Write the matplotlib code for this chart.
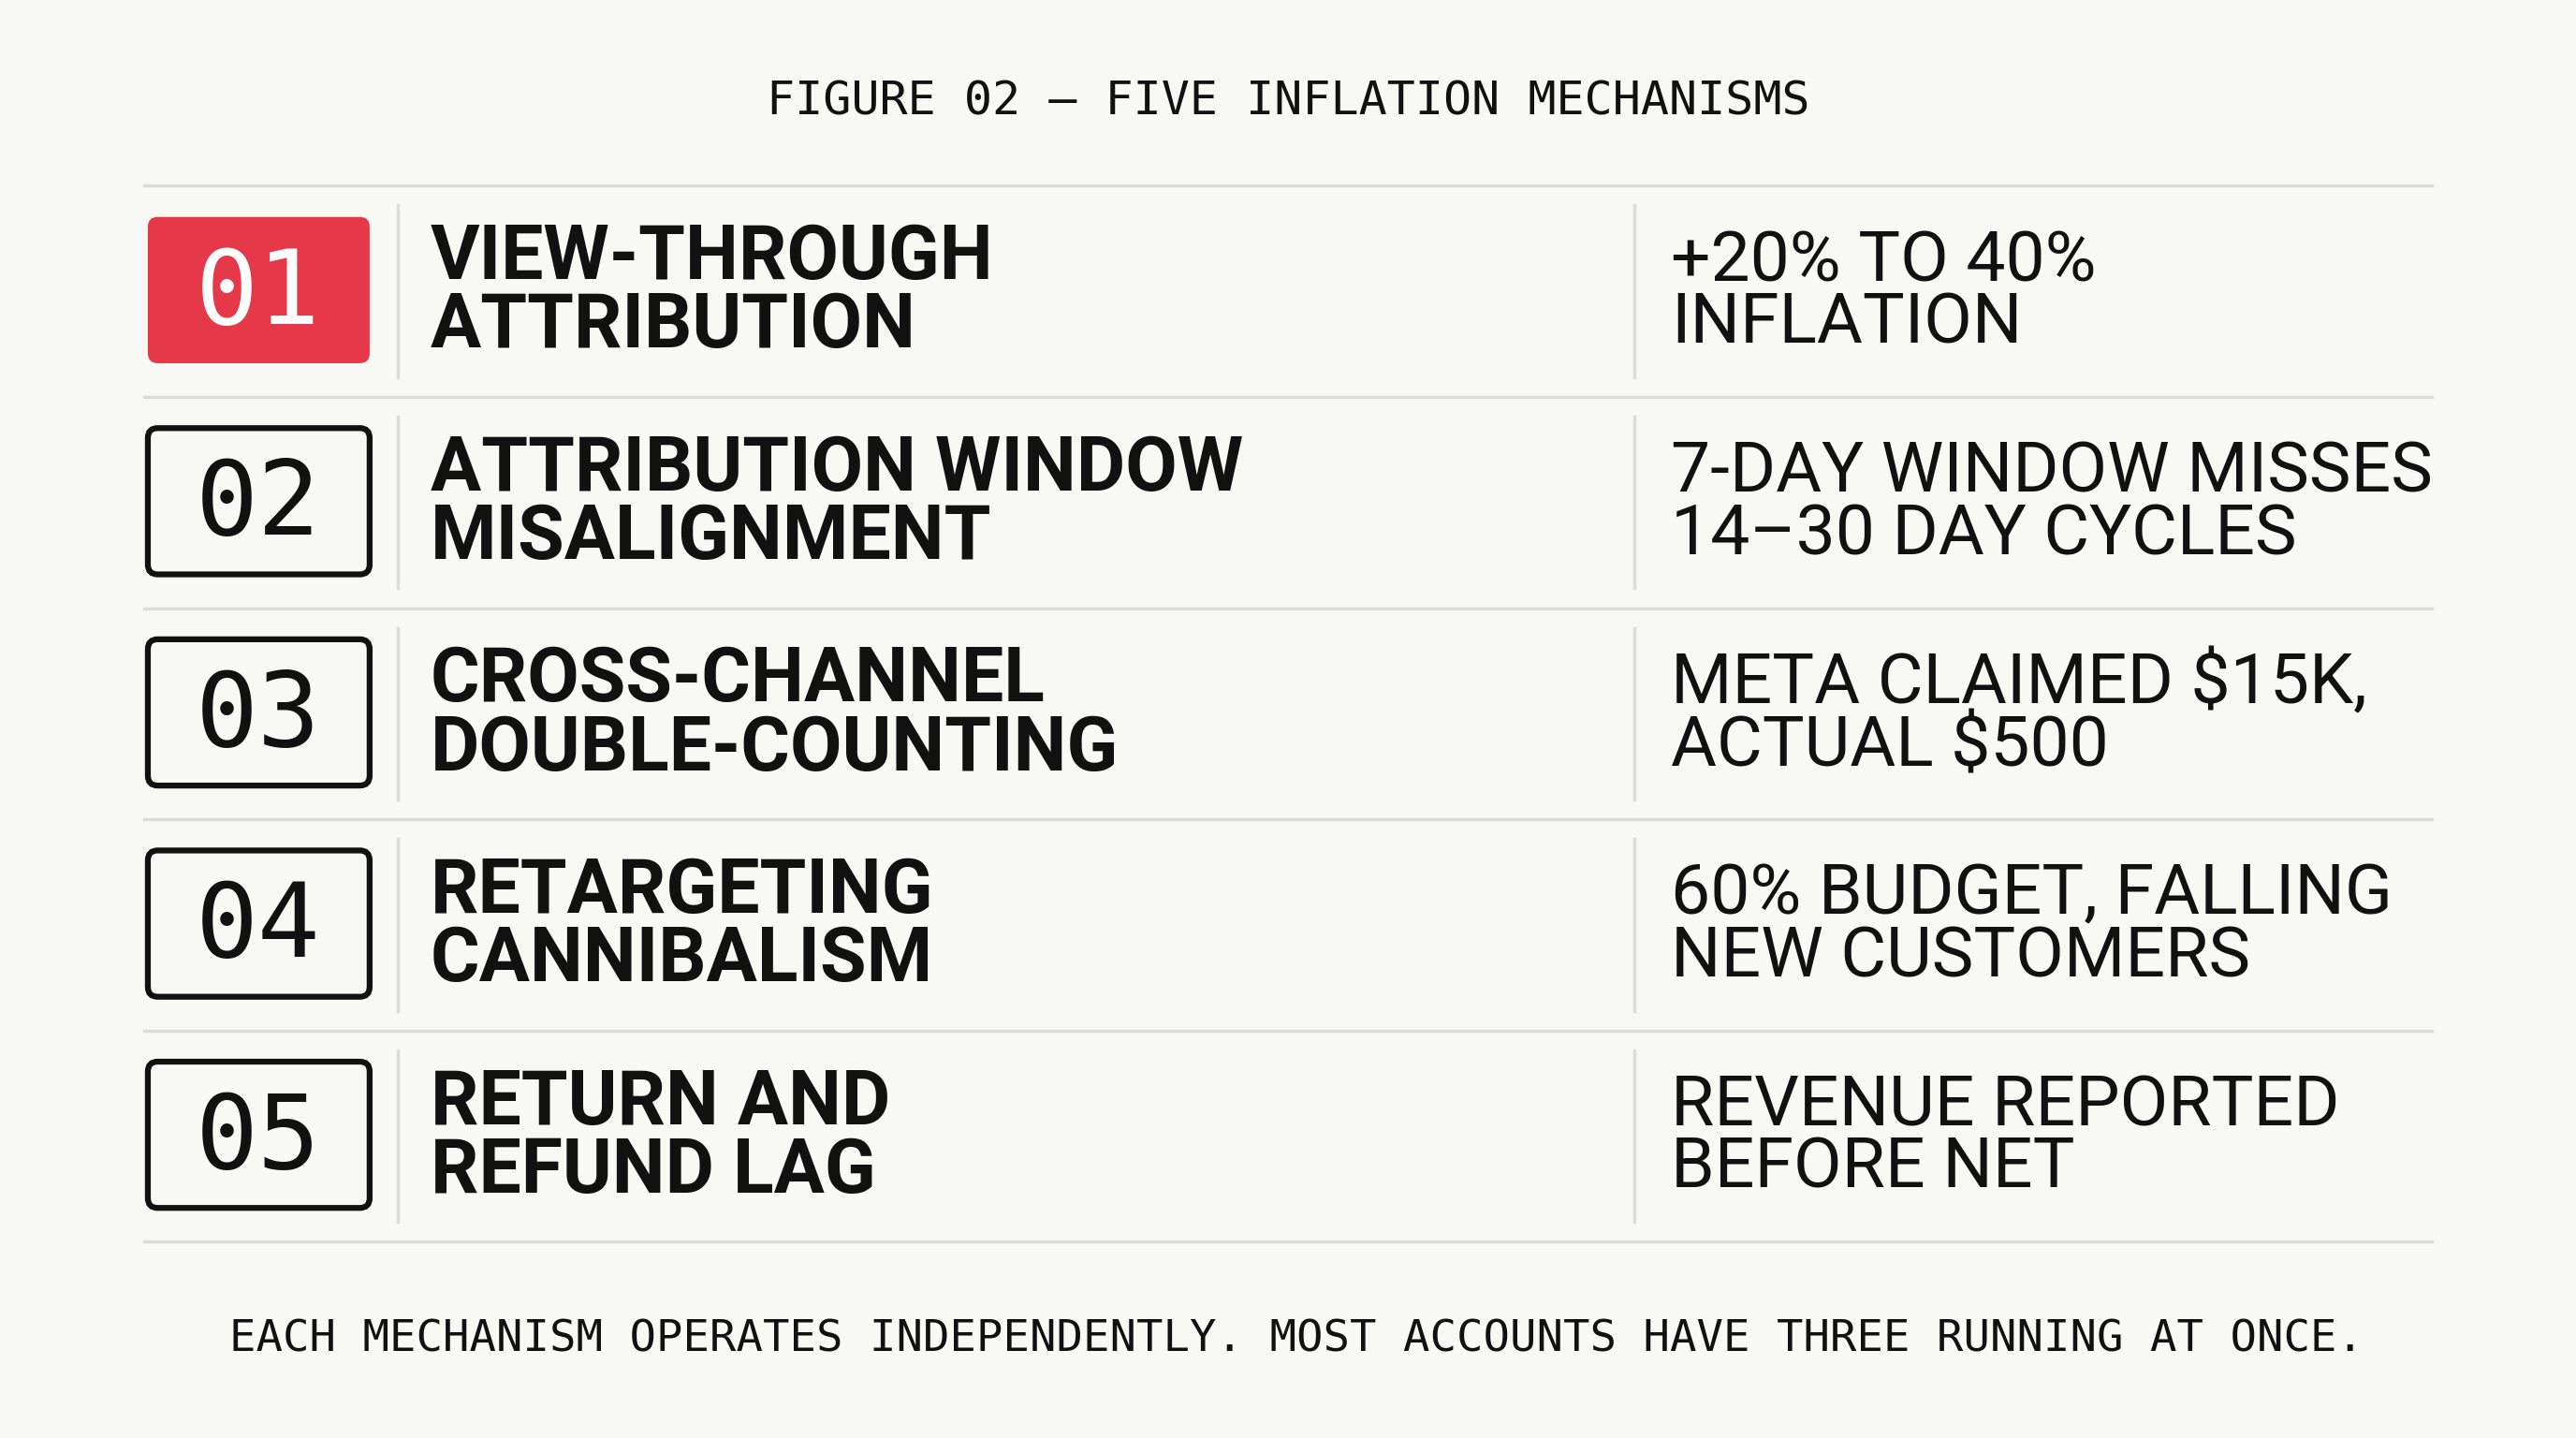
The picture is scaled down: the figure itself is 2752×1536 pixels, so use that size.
import matplotlib.pyplot as plt
from matplotlib.patches import FancyBboxPatch

# ── DATA ──────────────────────────────────────────────────────────────────────
numbers = ["01", "02", "03", "04", "05"]
mechanisms = [
    "VIEW-THROUGH\nATTRIBUTION",
    "ATTRIBUTION WINDOW\nMISALIGNMENT",
    "CROSS-CHANNEL\nDOUBLE-COUNTING",
    "RETARGETING\nCANNIBALISM",
    "RETURN AND\nREFUND LAG",
]
effects = [
    "+20% TO 40%\nINFLATION",
    "7-DAY WINDOW MISSES\n14–30 DAY CYCLES",
    "META CLAIMED $15K,\nACTUAL $500",
    "60% BUDGET, FALLING\nNEW CUSTOMERS",
    "REVENUE REPORTED\nBEFORE NET",
]
highlight = 0
title = "FIGURE 02 — FIVE INFLATION MECHANISMS"
footer = "EACH MECHANISM OPERATES INDEPENDENTLY. MOST ACCOUNTS HAVE THREE RUNNING AT ONCE."

BG = "#F8F8F4"
RED = "#E5394A"
INK = "#111111"
RULE = "#DCDCD8"

# ── PLOT ──────────────────────────────────────────────────────────────────────
W, H = 1568, 875
fig = plt.figure(figsize=(27.52, 15.36), dpi=100, facecolor=BG)
ax = fig.add_axes([0, 0, 1, 1])
ax.set_xlim(0, W)
ax.set_ylim(H, 0)
ax.axis("off")

ax.text(W / 2, 62, title, ha="center", va="center", fontsize=36,
        family="DejaVu Sans Mono", color=INK)

top, row_h = 113, 128.5
ax.plot([88, 1480], [top, top], color=RULE, lw=2.5)
for i, (num, mech, eff) in enumerate(zip(numbers, mechanisms, effects)):
    y0 = top + i * row_h
    y1 = y0 + row_h
    yc = (y0 + y1) / 2
    ax.plot([88, 1480], [y1, y1], color=RULE, lw=2.5)
    for xs in (242, 995):
        ax.plot([xs, xs], [y0 + 12, y1 - 12], color=RULE, lw=2.5)

    hl = i == highlight
    box = FancyBboxPatch((90, y0 + 19), 135, 89,
                         boxstyle="round,pad=0,rounding_size=6",
                         facecolor=RED if hl else "none",
                         edgecolor=RED if hl else INK, lw=0 if hl else 4.5)
    ax.add_patch(box)
    ax.text(157, yc + 2, num, ha="center", va="center", fontsize=80,
            family="DejaVu Sans Mono", color="white" if hl else INK)

    ax.text(262, yc + 1, mech, ha="left", va="center", fontsize=58,
            family="Roboto", weight="bold", color=INK, linespacing=0.92)
    ax.text(1017, yc + 1, eff, ha="left", va="center", fontsize=54,
            family="Roboto", color=INK, linespacing=0.92)

ax.text(W / 2 + 5, 815, footer, ha="center", va="center", fontsize=34,
        family="DejaVu Sans Mono", color=INK)

plt.savefig("out.png", dpi=100, facecolor=BG)
